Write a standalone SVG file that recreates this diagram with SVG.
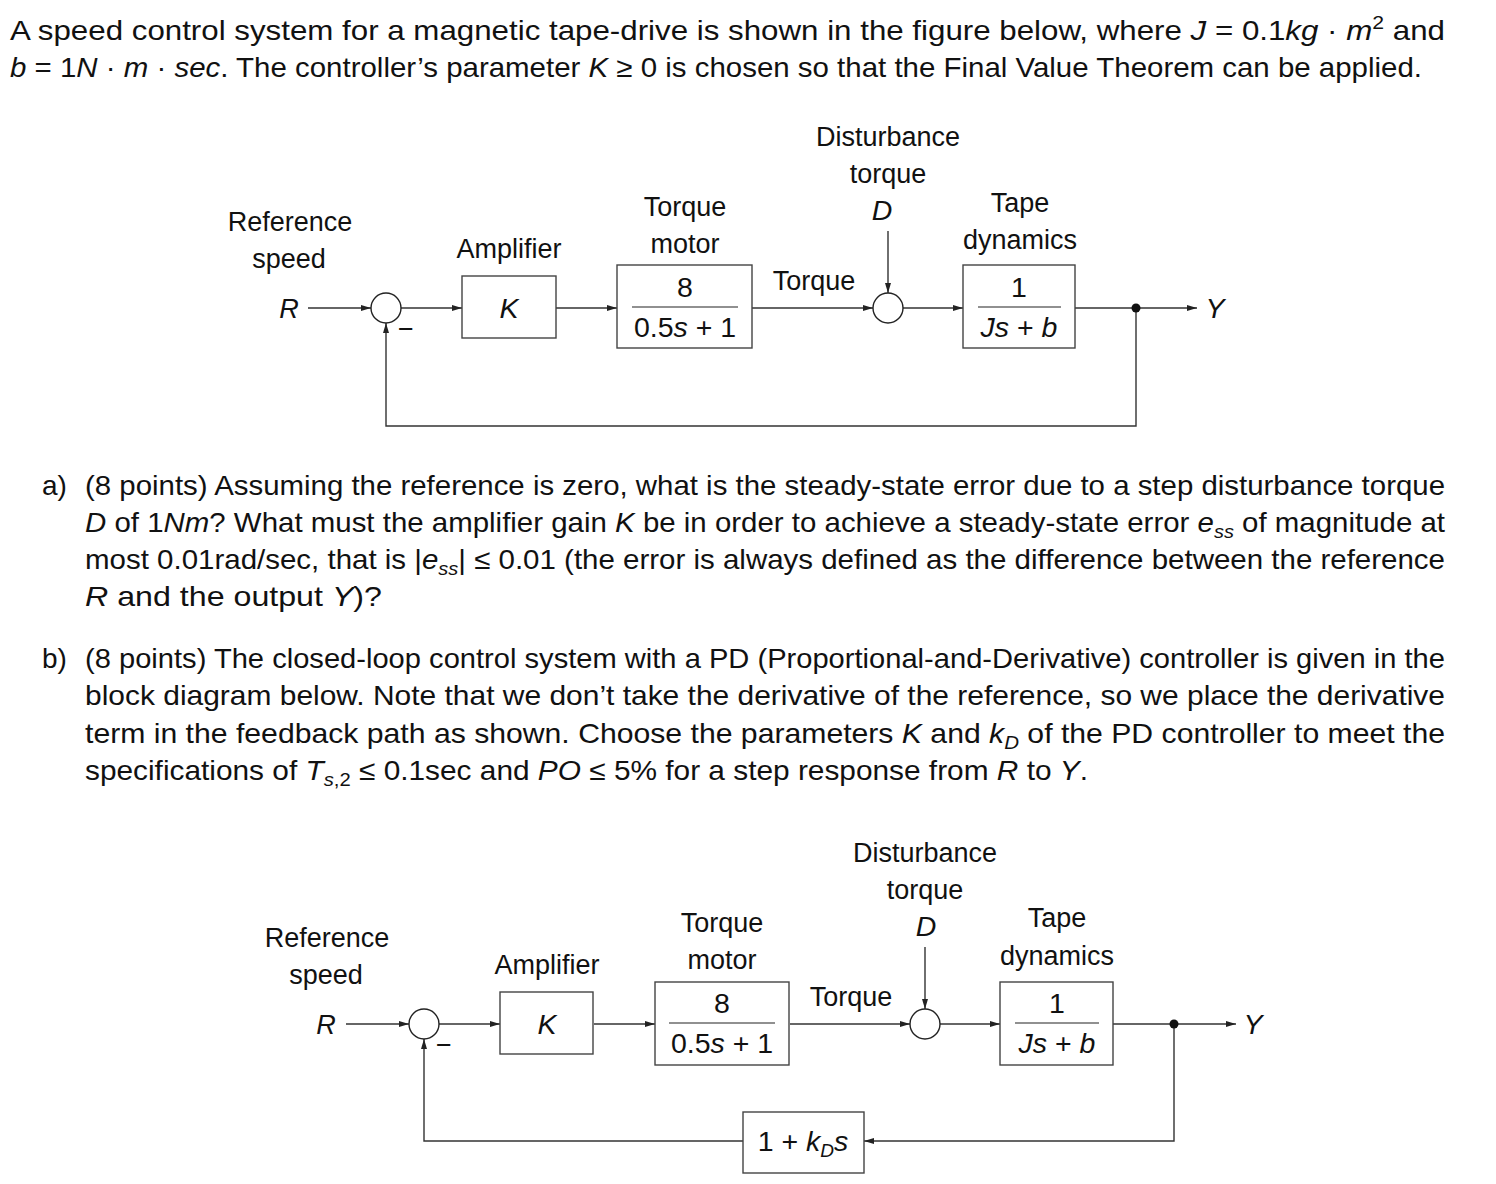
<svg xmlns="http://www.w3.org/2000/svg" width="1496" height="1184" viewBox="0 0 1496 1184">
<style>
text{font-family:"Liberation Sans",Arial,sans-serif;fill:#111}
.p{font-size:28px}
.l{font-size:27px;text-anchor:middle}
.f{font-size:28.5px}
.i{font-style:italic}
.box{fill:#fff;stroke:#444;stroke-width:1.4}
.sum{fill:#fff;stroke:#222;stroke-width:1.4}
.w{fill:none;stroke:#333;stroke-width:1.4}
.bar{stroke:#222;stroke-width:1.2}
</style>
<defs>
<marker id="ah" viewBox="0 0 10 6" refX="10" refY="3" markerWidth="10" markerHeight="6" markerUnits="userSpaceOnUse" orient="auto"><path d="M0,0 L10,3 L0,6 z" fill="#222"/></marker>
</defs>
<rect width="1496" height="1184" fill="#fff"/>

<g id="problem-text" class="p">
<text x="10" y="40" textLength="1435" lengthAdjust="spacingAndGlyphs">A speed control system for a magnetic tape-drive is shown in the figure below, where <tspan class="i">J</tspan>  =  0.1<tspan class="i">kg</tspan> · <tspan class="i">m</tspan><tspan dy="-11" font-size="19">2</tspan><tspan dy="11"> and</tspan></text>
<text x="10" y="77" textLength="1412" lengthAdjust="spacingAndGlyphs"><tspan class="i">b</tspan> = 1<tspan class="i">N</tspan> · <tspan class="i">m</tspan> · <tspan class="i">sec</tspan>. The controller’s parameter <tspan class="i">K</tspan> ≥ 0 is chosen so that the Final Value Theorem can be applied.</text>

<text x="42" y="495">a)</text>
<text x="85" y="495" textLength="1360" lengthAdjust="spacingAndGlyphs">(8 points) Assuming the reference is zero, what is the steady-state error due to a step disturbance torque</text>
<text x="85" y="532" textLength="1360" lengthAdjust="spacingAndGlyphs"><tspan class="i">D</tspan> of 1<tspan class="i">Nm</tspan>? What must the amplifier gain <tspan class="i">K</tspan> be in order to achieve a steady-state error <tspan class="i">e</tspan><tspan class="i" dy="6" font-size="19">ss</tspan><tspan dy="-6"> of magnitude at</tspan></text>
<text x="85" y="569" textLength="1360" lengthAdjust="spacingAndGlyphs">most 0.01rad/sec, that is |<tspan class="i">e</tspan><tspan class="i" dy="6" font-size="19">ss</tspan><tspan dy="-6">| ≤ 0.01 (the error is always defined as the difference between the reference</tspan></text>
<text x="85" y="606" textLength="297" lengthAdjust="spacingAndGlyphs"><tspan class="i">R</tspan> and the output <tspan class="i">Y</tspan>)?</text>

<text x="42" y="668">b)</text>
<text x="85" y="668" textLength="1360" lengthAdjust="spacingAndGlyphs">(8 points) The closed-loop control system with a PD (Proportional-and-Derivative) controller is given in the</text>
<text x="85" y="705" textLength="1360" lengthAdjust="spacingAndGlyphs">block diagram below. Note that we don’t take the derivative of the reference, so we place the derivative</text>
<text x="85" y="743" textLength="1360" lengthAdjust="spacingAndGlyphs">term in the feedback path as shown. Choose the parameters <tspan class="i">K</tspan> and <tspan class="i">k</tspan><tspan class="i" dy="6" font-size="19">D</tspan><tspan dy="-6"> of the PD controller to meet the</tspan></text>
<text x="85" y="780" textLength="1003" lengthAdjust="spacingAndGlyphs">specifications of <tspan class="i">T</tspan><tspan dy="6" font-size="19"><tspan class="i">s</tspan>,2</tspan><tspan dy="-6"> ≤ 0.1sec and </tspan><tspan class="i">PO</tspan> ≤ 5% for a step response from <tspan class="i">R</tspan> to <tspan class="i">Y</tspan>.</text>
</g>

<!-- Diagram 1 -->
<g id="diagram1">
<g id="d1-connectors">
<path class="w" d="M308,308 H371" marker-end="url(#ah)"/>
<path class="w" d="M401,308 H462" marker-end="url(#ah)"/>
<path class="w" d="M556,308 H617" marker-end="url(#ah)"/>
<path class="w" d="M752,308 H873" marker-end="url(#ah)"/>
<path class="w" d="M888,231 V293" marker-end="url(#ah)"/>
<path class="w" d="M903,308 H963" marker-end="url(#ah)"/>
<path class="w" d="M1075,308 H1197" marker-end="url(#ah)"/>
<path class="w" d="M1136,308 V426 H386 V323" marker-end="url(#ah)"/>
<text class="l" x="814" y="290" font-size="28">Torque</text>
</g>
<g id="d1-reference">
<text class="l" x="290" y="231">Reference</text>
<text class="l" x="289" y="268">speed</text>
<text class="l i" x="289" y="318">R</text>
</g>
<g id="d1-sum1">
<circle class="sum" cx="386" cy="308" r="15"/>
<text class="l" x="406" y="338" font-size="22">−</text>
</g>
<g id="d1-amplifier">
<text class="l" x="509" y="258">Amplifier</text>
<rect class="box" x="462" y="276" width="94" height="62"/>
<text class="l i f" x="509" y="318">K</text>
</g>
<g id="d1-motor">
<text class="l" x="685" y="216">Torque</text>
<text class="l" x="685" y="253">motor</text>
<rect class="box" x="617" y="265" width="135" height="83"/>
<text class="l f" x="685" y="297">8</text>
<line class="bar" x1="632" y1="307" x2="738" y2="307"/>
<text class="l f" x="685" y="337">0.5<tspan class="i">s</tspan> + 1</text>
</g>
<g id="d1-disturbance">
<text class="l" x="888" y="146" font-size="28">Disturbance</text>
<text class="l" x="888" y="183" font-size="28">torque</text>
<text class="l i f" x="882" y="220">D</text>
</g>
<g id="d1-sum2">
<circle class="sum" cx="888" cy="308" r="15"/>
</g>
<g id="d1-tape">
<text class="l" x="1020" y="212" font-size="28">Tape</text>
<text class="l" x="1020" y="249" font-size="28">dynamics</text>
<rect class="box" x="963" y="265" width="112" height="83"/>
<text class="l f" x="1019" y="297">1</text>
<line class="bar" x1="978" y1="307" x2="1061" y2="307"/>
<text class="l i f" x="1019" y="337">Js <tspan font-style="normal">+</tspan> b</text>
</g>
<g id="d1-branch"><circle cx="1136" cy="308" r="4.5" fill="#111"/></g>
<g id="d1-output"><text class="l i f" x="1215" y="318">Y</text></g>
</g>

<!-- Diagram 2 -->
<g id="diagram2" transform="translate(38,716)">
<g id="d2-connectors">
<path class="w" d="M308,308 H371" marker-end="url(#ah)"/>
<path class="w" d="M401,308 H462" marker-end="url(#ah)"/>
<path class="w" d="M556,308 H617" marker-end="url(#ah)"/>
<path class="w" d="M752,308 H872" marker-end="url(#ah)"/>
<path class="w" d="M887,231 V293" marker-end="url(#ah)"/>
<path class="w" d="M902,308 H962" marker-end="url(#ah)"/>
<path class="w" d="M1075,308 H1198" marker-end="url(#ah)"/>
<path class="w" d="M1136,308 V425 H826" marker-end="url(#ah)"/>
<path class="w" d="M705,425 H386 V323" marker-end="url(#ah)"/>
<text class="l" x="813" y="290" font-size="28">Torque</text>
</g>
<g id="d2-reference">
<text class="l" x="289" y="231">Reference</text>
<text class="l" x="288" y="268">speed</text>
<text class="l i" x="288" y="318">R</text>
</g>
<g id="d2-sum1">
<circle class="sum" cx="386" cy="308" r="15"/>
<text class="l" x="406" y="338" font-size="22">−</text>
</g>
<g id="d2-amplifier">
<text class="l" x="509" y="258">Amplifier</text>
<rect class="box" x="462" y="276" width="93" height="62"/>
<text class="l i f" x="509" y="318">K</text>
</g>
<g id="d2-motor">
<text class="l" x="684" y="216">Torque</text>
<text class="l" x="684" y="253">motor</text>
<rect class="box" x="617" y="266" width="134" height="83"/>
<text class="l f" x="684" y="297">8</text>
<line class="bar" x1="631" y1="307" x2="737" y2="307"/>
<text class="l f" x="684" y="337">0.5<tspan class="i">s</tspan> + 1</text>
</g>
<g id="d2-disturbance">
<text class="l" x="887" y="146" font-size="28">Disturbance</text>
<text class="l" x="887" y="183" font-size="28">torque</text>
<text class="l i f" x="888" y="220">D</text>
</g>
<g id="d2-sum2">
<circle class="sum" cx="887" cy="308" r="15"/>
</g>
<g id="d2-tape">
<text class="l" x="1019" y="211" font-size="28">Tape</text>
<text class="l" x="1019" y="249" font-size="28">dynamics</text>
<rect class="box" x="962" y="266" width="113" height="83"/>
<text class="l f" x="1019" y="297">1</text>
<line class="bar" x1="977" y1="307" x2="1061" y2="307"/>
<text class="l i f" x="1019" y="337">Js <tspan font-style="normal">+</tspan> b</text>
</g>
<g id="d2-feedback">
<rect class="box" x="705" y="396" width="121" height="61"/>
<text class="l f" x="765" y="435">1 + <tspan class="i">k</tspan><tspan class="i" dy="6" font-size="19">D</tspan><tspan class="i" dy="-6">s</tspan></text>
</g>
<g id="d2-branch"><circle cx="1136" cy="308" r="4.5" fill="#111"/></g>
<g id="d2-output"><text class="l i f" x="1215" y="318">Y</text></g>
</g>
</svg>
